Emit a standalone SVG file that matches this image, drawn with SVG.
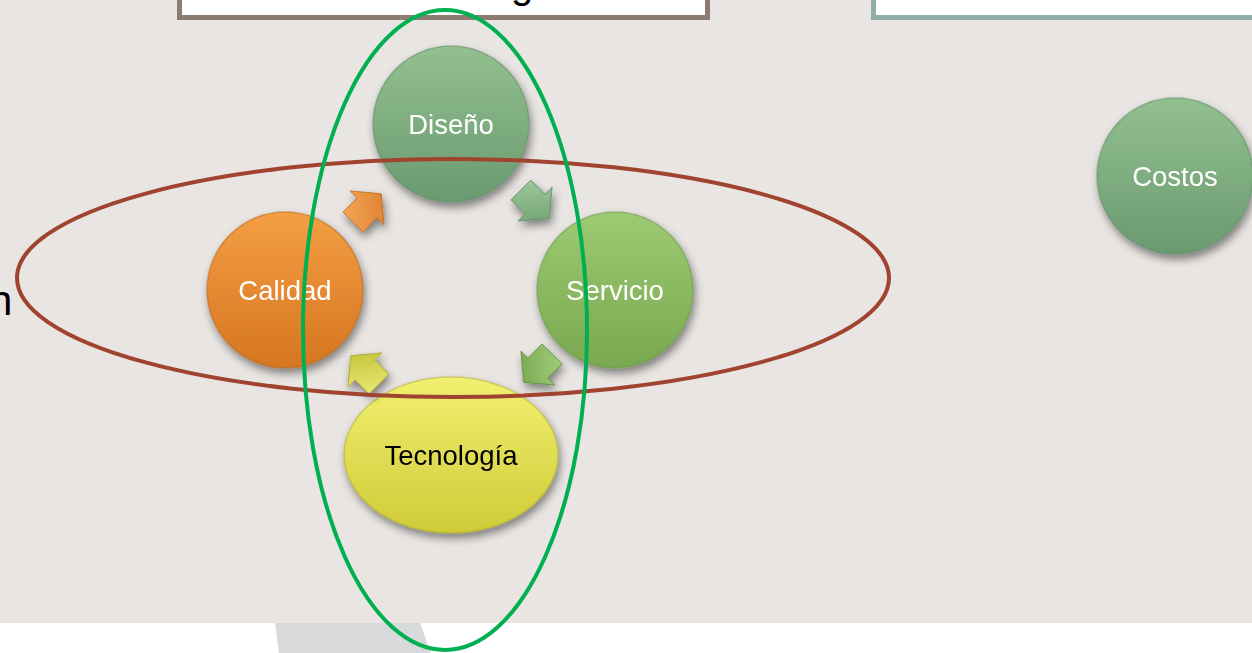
<svg xmlns="http://www.w3.org/2000/svg" width="1252" height="653" viewBox="0 0 1252 653">
<style>
.lbl{font-family:"Liberation Sans",Arial,sans-serif;font-size:27.5px;text-anchor:middle}
.w{fill:#FFFFFF}
.k{fill:#000000}
.node{filter:url(#sh)}
.ring{fill:none;stroke-width:4}
</style>
<defs>
<filter id="sh" x="-30%" y="-30%" width="160%" height="170%">
<feDropShadow dx="2" dy="5" stdDeviation="4" flood-color="#000" flood-opacity="0.45"/>
</filter>
<linearGradient id="gGreen" x1="0" y1="0" x2="0" y2="1">
<stop offset="0" stop-color="#92C090"/><stop offset="1" stop-color="#6A9A70"/>
</linearGradient>
<linearGradient id="gServ" x1="0" y1="0" x2="0" y2="1">
<stop offset="0" stop-color="#9DCA72"/><stop offset="1" stop-color="#78A850"/>
</linearGradient>
<linearGradient id="gCal" x1="0" y1="0" x2="0" y2="1">
<stop offset="0" stop-color="#F49E44"/><stop offset="1" stop-color="#D67620"/>
</linearGradient>
<linearGradient id="gTec" x1="0" y1="0" x2="0" y2="1">
<stop offset="0" stop-color="#F2F070"/><stop offset="1" stop-color="#CFCB38"/>
</linearGradient>
<linearGradient id="aOr" x1="0" y1="0" x2="1" y2="1">
<stop offset="0" stop-color="#F7AC5A"/><stop offset="1" stop-color="#D8782A"/>
</linearGradient>
<linearGradient id="aGr" x1="0" y1="0" x2="1" y2="1">
<stop offset="0" stop-color="#A2CCA0"/><stop offset="1" stop-color="#6A9C6E"/>
</linearGradient>
<linearGradient id="aSv" x1="0" y1="0" x2="1" y2="1">
<stop offset="0" stop-color="#A8D27E"/><stop offset="1" stop-color="#6EA048"/>
</linearGradient>
<linearGradient id="aYe" x1="0" y1="0" x2="1" y2="1">
<stop offset="0" stop-color="#EEEE78"/><stop offset="1" stop-color="#BDBB30"/>
</linearGradient>
<path id="arr" d="M-17,-14 L3,-14 L3,-24 L23,0 L3,24 L3,14 L-17,14 Z"/>
</defs>

<rect x="0" y="0" width="1252" height="653" fill="#E8E5E2"/>
<rect x="0" y="623" width="1252" height="30" fill="#FFFFFF"/>
<polygon points="275,623 420,623 431,653 279,653" fill="#D8D9DB"/>

<g id="box-left">
<rect x="179.5" y="-12" width="528" height="29.5" fill="#FFFFFF" stroke="#8C7B70" stroke-width="5"/>
<text x="511" y="-2" style="font-family:'Liberation Sans',Arial,sans-serif;font-size:40px" fill="#000">g</text>
</g>
<g id="box-right">
<rect x="873.5" y="-12" width="400" height="29.5" fill="#FFFFFF" stroke="#8FAEA9" stroke-width="5"/>
</g>

<text x="-11" y="315" style="font-family:'Liberation Sans',Arial,sans-serif;font-size:42px" fill="#000">n</text>

<g id="node-diseno" class="node">
<circle cx="451" cy="124" r="78" fill="url(#gGreen)" stroke="#5F8C64" stroke-opacity="0.5" stroke-width="1.5"/>
<text class="lbl w" x="451" y="134">Diseño</text>
</g>
<g id="node-servicio" class="node">
<circle cx="615" cy="290" r="78" fill="url(#gServ)" stroke="#6A9545" stroke-opacity="0.5" stroke-width="1.5"/>
<text class="lbl w" x="615" y="300">Servicio</text>
</g>
<g id="node-calidad" class="node">
<circle cx="285" cy="290" r="78" fill="url(#gCal)" stroke="#B86418" stroke-opacity="0.5" stroke-width="1.5"/>
<text class="lbl w" x="285" y="300">Calidad</text>
</g>
<g id="node-tecnologia" class="node">
<ellipse cx="451" cy="455" rx="107" ry="78" fill="url(#gTec)" stroke="#B0AC28" stroke-opacity="0.5" stroke-width="1.5"/>
<text class="lbl k" x="451" y="465">Tecnología</text>
</g>
<g id="node-costos" class="node">
<circle cx="1175" cy="176" r="78" fill="url(#gGreen)" stroke="#5F8C64" stroke-opacity="0.5" stroke-width="1.5"/>
<text class="lbl w" x="1175" y="186">Costos</text>
</g>

<g id="connectors" class="node">
<use href="#arr" transform="translate(365,210) rotate(-45)" fill="url(#aOr)" stroke="#C06A20" stroke-width="0.8"/>
<use href="#arr" transform="translate(533,202) rotate(45)" fill="url(#aGr)" stroke="#5E8E62" stroke-width="0.8"/>
<use href="#arr" transform="translate(540,366) rotate(135)" fill="url(#aSv)" stroke="#5E8E3A" stroke-width="0.8"/>
<use href="#arr" transform="translate(367,372) rotate(-135)" fill="url(#aYe)" stroke="#A8A628" stroke-width="0.8"/>
</g>

<g id="highlights">
<ellipse class="ring" cx="453" cy="278" rx="436" ry="119" stroke="#A0432F"/>
<ellipse class="ring" cx="445" cy="330" rx="142" ry="320" stroke="#00B050"/>
</g>
</svg>
